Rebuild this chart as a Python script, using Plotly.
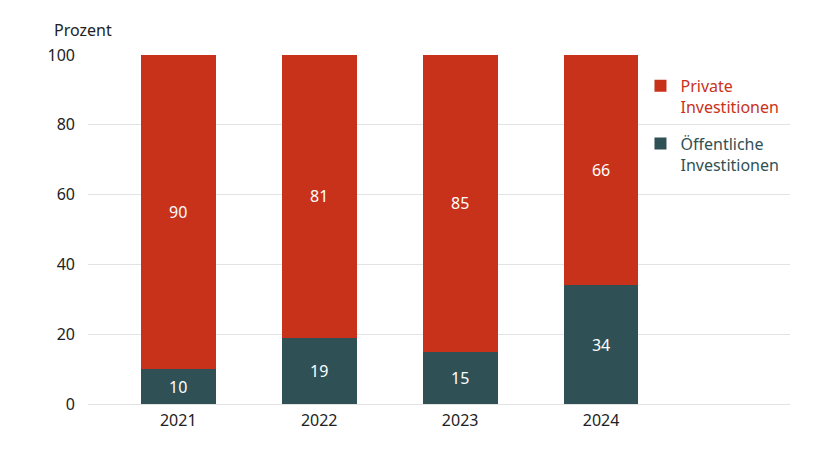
import plotly.graph_objects as go

years = ["2021", "2022", "2023", "2024"]
public = [10, 19, 15, 34]
private = [90, 81, 85, 66]

RED = "#C8321A"
TEAL = "#2F5155"
FONT = "Noto Sans"

fig = go.Figure()
fig.add_trace(go.Bar(
    x=years, y=public, name=f"<span style='color:{TEAL}'>Öffentliche<br>Investitionen</span>",
    legendgroup="pub", legendrank=2,
    marker=dict(color=TEAL, line=dict(width=0)), width=0.53,
    text=public, textposition="inside", insidetextanchor="middle",
    textfont=dict(color="white", size=16, family=FONT),
))
fig.add_trace(go.Bar(
    x=years, y=private, name=f"<span style='color:{RED}'>Private<br>Investitionen</span>",
    legendgroup="priv", legendrank=1,
    marker=dict(color=RED, line=dict(width=0)), width=0.53,
    text=private, textposition="inside", insidetextanchor="middle",
    textfont=dict(color="white", size=16, family=FONT),
))

fig.update_layout(
    barmode="stack",
    width=840, height=452,
    margin=dict(l=80, r=58, t=47, b=56),
    plot_bgcolor="white", paper_bgcolor="white",
    font=dict(family=FONT, size=15, color="#222222"),
    showlegend=True,
    legend=dict(
        traceorder="grouped", x=0.787, y=0.96, xanchor="left", yanchor="top",
        font=dict(size=16, family=FONT), valign="top", tracegroupgap=13,
        bgcolor="rgba(0,0,0,0)", itemwidth=30,
    ),
    uniformtext=dict(mode="show", minsize=16),
    annotations=[dict(
        text="Prozent", xref="paper", yref="paper",
        x=(52 - 88) / 702, y=(404 - 30) / 349,
        xanchor="left", yanchor="middle", showarrow=False,
        font=dict(size=16, family=FONT, color="#222222"),
    )],
)
fig.update_xaxes(type="category", range=[-0.64, 4.34], showgrid=False, ticks="",
                 showline=False, ticklabelstandoff=5,
                 tickfont=dict(size=16, family=FONT, color="#222222"))
fig.update_yaxes(range=[0, 100], tickvals=[0, 20, 40, 60, 80, 100], showgrid=True,
                 gridcolor="#E3E3E3", gridwidth=1, zeroline=True, zerolinecolor="#E3E3E3",
                 zerolinewidth=1, ticks="", showline=False, ticklabelstandoff=12,
                 tickfont=dict(size=16, family=FONT, color="#222222"))

fig.write_html("out.html")
